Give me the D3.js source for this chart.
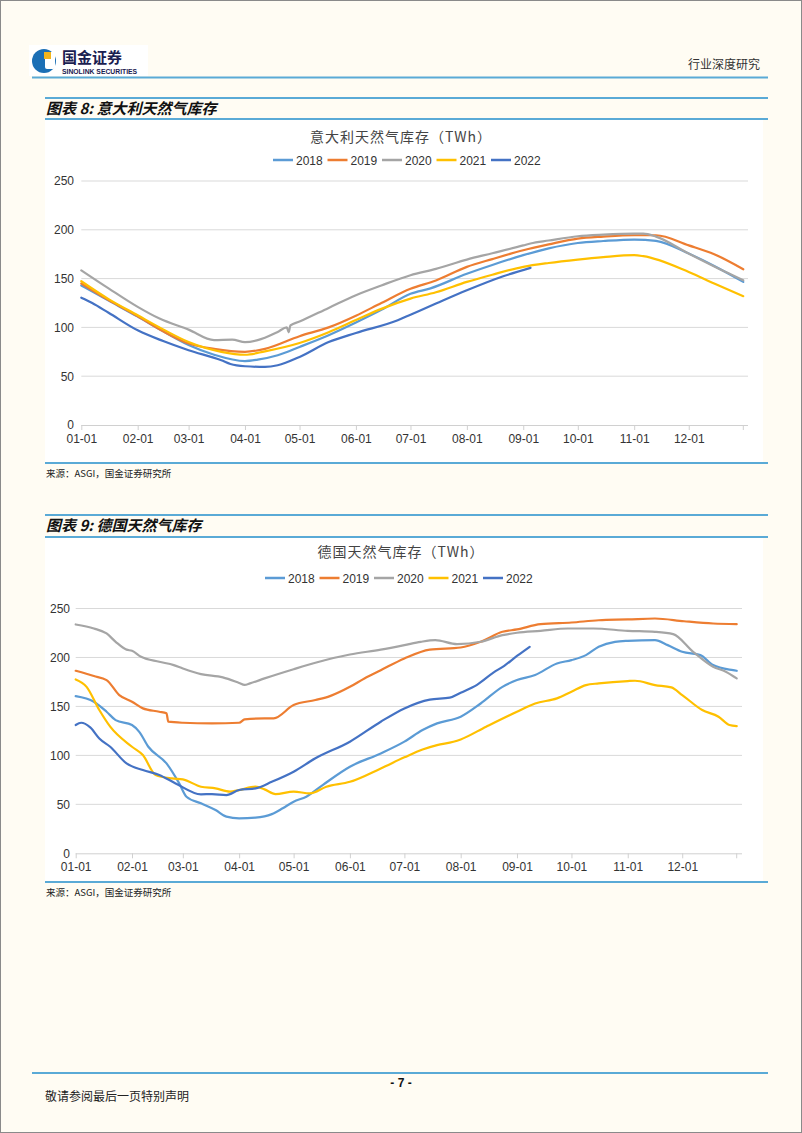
<!DOCTYPE html>
<html><head><meta charset="utf-8">
<script src="https://cdn.jsdelivr.net/npm/d3@7"></script>
<style>
html,body{margin:0;padding:0;background:#fffcf3;}
svg{display:block;}
</style></head>
<body>
<svg id="page" width="802" height="1133"></svg>
<script>
// ---------- DATA ----------
const years = ["2018","2019","2020","2021","2022"];
const seriesColors = ["#5b9bd5","#ed7d31","#a5a5a5","#ffc000","#4472c4"];
const xTickLabels = ["01-01","02-01","03-01","04-01","05-01","06-01","07-01","08-01","09-01","10-01","11-01","12-01"];
const yTicks = [0,50,100,150,200,250];

// Italy storage (TWh)
const it2018 = [["01-01",143],["01-16",127.5],["02-01",111],["02-15",96],["03-01",82],["03-15",72],["04-01",65.5],["04-08",67],["04-19",71.5],["05-01",80],["05-17",92],["06-01",105],["06-15",118],["07-01",134.5],["07-12",140],["08-01",155],["08-15",164],["09-01",174],["09-15",181],["10-01",186.5],["10-15",188.5],["11-01",190],["11-13",188.6],["12-01",175.6],["12-15",163],["12-31",146.6]];
const it2019 = [["01-01",145],["01-16",128],["02-01",111.5],["02-15",96],["03-01",83.5],["03-15",78],["04-01",75],["04-12",78],["05-01",91],["05-17",100],["06-01",112],["06-15",125],["07-01",139.5],["07-15",148],["08-01",162],["08-15",170],["09-01",179],["09-15",185],["10-01",191],["10-15",193],["11-01",194.4],["11-13",194.4],["12-01",184],["12-15",175],["12-31",159.6]];
const it2020 = [["01-01",158.5],["01-16",140],["02-01",121],["02-13",109],["03-01",97.7],["03-15",87],["03-25",87.5],["04-01",85],["04-08",87],["04-19",95.4],["04-24",100],["04-25",95],["04-26",102],["05-01",106],["05-17",120],["06-01",133],["06-15",143],["07-01",153.5],["07-15",160],["08-01",169.5],["08-15",176],["09-01",184],["09-05",186],["09-15",189],["10-01",193.4],["10-15",195],["11-01",196],["11-06",196],["11-13",193],["12-01",175.6],["12-21",157],["12-31",148.3]];
const it2021 = [["01-01",147.3],["01-16",129],["02-01",112.4],["02-15",98],["03-01",85],["03-19",75],["04-01",72],["04-12",75.5],["05-01",84],["05-17",95],["06-01",107.5],["06-15",119],["07-01",129.5],["07-15",136],["08-01",146.6],["08-15",154],["09-01",162],["09-15",166],["10-01",169.5],["10-15",172],["11-01",174],["11-06",173],["12-01",156.8],["12-15",145],["12-31",132]];
const it2022 = [["01-01",130.5],["01-07",125],["01-16",115],["02-01",97],["02-15",86],["03-01",76.6],["03-19",66.3],["03-24",62.5],["04-01",60.2],["04-12",59.5],["04-19",61.2],["05-01",69.7],["05-17",85],["06-01",94.3],["06-24",107.3],["07-01",113],["07-15",124.4],["08-01",138],["08-21",152.4],["09-05",161]];

// Germany storage (TWh)
const de2018 = [["01-01",160.5],["01-11",154.8],["01-18",144.6],["01-23",136],["02-01",131],["02-05",124],["02-10",108.8],["02-20",91.8],["02-27",71.4],["03-03",57.8],["03-11",51],["03-19",44.2],["03-25",37.4],["04-01",35.7],["04-10",36.4],["04-19",40],["04-25",46],["05-01",52.7],["05-08",57.8],["05-17",69.7],["06-01",88.4],["06-18",102],["07-01",114],["07-11",125.9],["07-19",132.7],["08-01",139.5],["08-12",153],["08-24",170],["09-01",176.9],["09-11",182],["09-23",193.9],["10-01",197.3],["10-09",202.4],["10-16",210.9],["10-25",216],["11-01",217],["11-16",217.7],["11-23",212.6],["12-01",205.8],["12-11",202.4],["12-18",192.2],["12-29",187],["12-31",186.4]];
const de2019 = [["01-01",186.4],["01-11",181],["01-18",176.9],["01-25",161.6],["02-01",154.8],["02-07",148],["02-16",144.6],["02-20",142.9],["02-21",134.4],["03-01",133.3],["03-17",132.7],["04-01",133.3],["04-04",136.7],["04-15",137.8],["04-20",137.8],["05-01",151.4],["05-13",156.5],["05-21",160.5],["06-01",170],["06-09",178.6],["06-18",187],["07-01",199],["07-15",208],["08-01",210.2],["08-12",216],["08-24",226.2],["09-01",228.6],["09-14",234],["10-01",235.7],["10-16",238],["11-01",238.8],["11-16",239.8],["12-02",237],["12-18",234.7],["12-31",234]];
const de2020 = [["01-01",233.7],["01-11",229.6],["01-18",224.5],["01-23",216],["01-29",208],["02-01",206.8],["02-06",200.7],["02-16",195.6],["02-24",192.2],["03-01",188.8],["03-11",183],["03-23",179.6],["04-01",174],["04-04",172],["04-07",173.5],["04-15",178.6],["05-01",188],["05-13",194.6],["06-01",203],["06-18",208],["07-01",212.6],["07-10",216],["07-18",217.7],["07-30",213.6],["08-12",216],["08-24",222.8],["09-01",225.2],["09-14",227.2],["09-29",229.6],["10-13",229.6],["11-01",227.2],["11-16",226.2],["11-26",223.8],["12-07",205.8],["12-18",190.5],["12-25",185.5],["12-31",178.6]];
const de2021 = [["01-01",177.6],["01-07",170],["01-14",146.3],["01-20",129.3],["02-01",108.8],["02-07",100.3],["02-14",80],["02-23",76.5],["03-01",75.5],["03-11",68],["03-19",66.3],["03-27",63],["04-01",64.6],["04-10",68],["04-15",65.3],["04-21",60.5],["05-01",63],["05-10",61.2],["05-19",68],["06-01",73],["06-18",86.7],["07-01",98],["07-11",106],["07-19",110.5],["07-28",113.9],["08-01",116.3],["08-15",129.3],["09-01",144.6],["09-11",153],["09-23",158.2],["10-01",165],["10-09",171.8],["10-16",173.5],["11-01",175.9],["11-05",176.2],["11-16",171.8],["11-25",169.4],["12-01",161.6],["12-12",146.3],["12-21",139.5],["12-27",131],["12-31",129.9]];
const de2022 = [["01-01",131],["01-04",133.3],["01-09",128.6],["01-14",117.3],["01-20",108.8],["01-29",91.8],["02-07",85],["02-16",80],["02-25",71.4],["03-11",60.2],["03-17",60.5],["03-25",59.5],["04-01",64.6],["04-10",66.3],["04-19",73],["05-01",83.3],["05-13",97],["06-01",114],["06-18",134.4],["07-01",148],["07-15",157],["07-26",159],["08-01",164],["08-10",172],["08-19",184.5],["08-25",191.5],["09-01",201.5],["09-08",210.9]];

// ---------- PAGE ----------
const svg = d3.select("#page");
const parse = d3.timeParse("%Y-%m-%d");
const md = s => parse("2022-" + s);
const cjk = "'Noto Sans CJK SC','Noto Sans',sans-serif";
const latin = "'Liberation Sans',Arial,sans-serif";
const ruleColor = "#5aaad6";

svg.append("rect").attr("x",0.5).attr("y",0.5).attr("width",801).attr("height",1132)
  .attr("fill","#fffcf3").attr("stroke","#8a8a8a");

// header logo
const logo = svg.append("g");
logo.append("rect").attr("x",29).attr("y",45).attr("width",119).attr("height",31).attr("fill","#ffffff");
logo.append("circle").attr("cx",44).attr("cy",61).attr("r",12).attr("fill","#1b6fb5");
logo.append("rect").attr("x",45).attr("y",52).attr("width",10).attr("height",17).attr("rx",2).attr("fill","#ffffff");
logo.append("rect").attr("x",44).attr("y",52).attr("width",7).attr("height",7).attr("fill","#f2b51c");
logo.append("text").attr("x",62).attr("y",63).attr("font-family",cjk).attr("font-weight",700)
  .attr("font-size",15).attr("fill","#1a2050").text("国金证券");
logo.append("text").attr("x",62).attr("y",74).attr("font-family",latin).attr("font-weight",700)
  .attr("font-size",6.8).attr("fill","#1a2050").text("SINOLINK SECURITIES");

svg.append("text").attr("x",760).attr("y",69).attr("text-anchor","end").attr("font-family",cjk)
  .attr("font-size",12).attr("fill","#333").text("行业深度研究");

function rule(y, x1, x2, w) {
  svg.append("line").attr("x1",x1).attr("x2",x2).attr("y1",y).attr("y2",y)
    .attr("stroke",ruleColor).attr("stroke-width",w || 2);
}
rule(77.5, 32, 768);
rule(1073, 32, 768);

svg.append("text").attr("x",401).attr("y",1087).attr("text-anchor","middle").attr("font-family",latin)
  .attr("font-weight",700).attr("font-size",12).attr("fill","#111").text("- 7 -");
svg.append("text").attr("x",45).attr("y",1101).attr("font-family",cjk)
  .attr("font-size",12).attr("fill","#222").text("敬请参阅最后一页特别声明");

// ---------- CHART ----------
function drawChart(cfg) {
  rule(cfg.secTop, 45, 768);
  svg.append("rect").attr("x",45).attr("y",cfg.secBottom+1).attr("width",718)
    .attr("height",cfg.panelBottom - cfg.secBottom - 2).attr("fill","#ffffff");
  rule(cfg.secBottom, 45, 768);
  rule(cfg.panelBottom, 45, 768);
  svg.append("text").attr("x",46).attr("y",cfg.secTop+16).attr("font-family",cjk)
    .attr("font-weight",700).attr("font-style","italic").attr("font-size",15)
    .attr("fill","#111").text(cfg.section);
  svg.append("text").attr("x",46).attr("y",cfg.panelBottom+14).attr("font-family",cjk)
    .attr("font-size",9.5).attr("fill","#222").text("来源：ASGI，国金证券研究所");

  svg.append("text").attr("x",401).attr("y",cfg.titleY).attr("text-anchor","middle")
    .attr("font-family",cjk).attr("font-size",14).attr("fill","#444").attr("letter-spacing",1)
    .text(cfg.title);

  const legW = 54.5;
  const leg = svg.append("g");
  years.forEach((yr,i) => {
    const x = cfg.legX + i*legW;
    leg.append("line").attr("x1",x).attr("x2",x+20).attr("y1",cfg.legY).attr("y2",cfg.legY)
      .attr("stroke",seriesColors[i]).attr("stroke-width",2.5);
    leg.append("text").attr("x",x+23).attr("y",cfg.legY+4.5).attr("font-family",latin)
      .attr("font-size",12).attr("fill","#333").text(yr);
  });

  const x = d3.scaleTime().domain([md("01-01"), md("12-31")]).range([cfg.x0, cfg.x1]);
  const y = d3.scaleLinear().domain([0,250]).range([cfg.y0, cfg.y250]);

  svg.append("g").selectAll("line").data(yTicks.filter(d=>d>0)).join("line")
    .attr("x1",cfg.x0).attr("x2",cfg.gridEnd).attr("y1",d=>y(d)).attr("y2",d=>y(d))
    .attr("stroke","#d9d9d9").attr("stroke-width",1);

  const yAxis = d3.axisLeft(y).tickValues(yTicks).tickSize(0).tickPadding(0);
  const gy = svg.append("g").attr("transform",`translate(${cfg.yLabelX},0)`).call(yAxis);
  gy.select(".domain").remove();
  gy.selectAll("text").attr("font-family",latin).attr("font-size",12).attr("fill","#333");

  const monthTicks = xTickLabels.map(md);
  const xAxis = d3.axisBottom(x).tickValues(monthTicks).tickSize(5).tickPadding(4)
    .tickFormat((d,i)=>xTickLabels[i]);
  const gx = svg.append("g").attr("transform",`translate(0,${cfg.y0})`).call(xAxis);
  gx.select(".domain").remove();
  gx.append("line").attr("x1",cfg.x0).attr("x2",cfg.gridEnd).attr("y1",0.5).attr("y2",0.5)
    .attr("stroke","#d0d0d0");
  gx.append("line").attr("x1",x(md("12-31"))).attr("x2",x(md("12-31"))).attr("y1",0).attr("y2",5)
    .attr("stroke","#d0d0d0");
  gx.selectAll(".tick line").attr("stroke","#d0d0d0");
  gx.selectAll("text").attr("font-family",latin).attr("font-size",12).attr("fill","#333");

  const line = d3.line().x(d=>x(md(d[0]))).y(d=>y(d[1])).curve(d3.curveMonotoneX);
  cfg.series.forEach((s,i)=>{
    svg.append("path").datum(s).attr("d",line).attr("fill","none")
      .attr("stroke",seriesColors[i]).attr("stroke-width",2.2)
      .attr("stroke-linejoin","round").attr("stroke-linecap","round");
  });
}

drawChart({
  secTop: 98, secBottom: 119, panelBottom: 463,
  section: "图表 8: 意大利天然气库存",
  title: "意大利天然气库存（TWh）", titleY: 142,
  legX: 273, legY: 160,
  x0: 81.3, x1: 743.3, gridEnd: 748, y0: 425, y250: 181, yLabelX: 74,
  series: [it2018, it2019, it2020, it2021, it2022]
});
drawChart({
  secTop: 515, secBottom: 537, panelBottom: 882,
  section: "图表 9: 德国天然气库存",
  title: "德国天然气库存（TWh）", titleY: 557,
  legX: 265, legY: 578,
  x0: 75.7, x1: 736.7, gridEnd: 742, y0: 853.3, y250: 608.5, yLabelX: 70,
  series: [de2018, de2019, de2020, de2021, de2022]
});
</script>
</body></html>
